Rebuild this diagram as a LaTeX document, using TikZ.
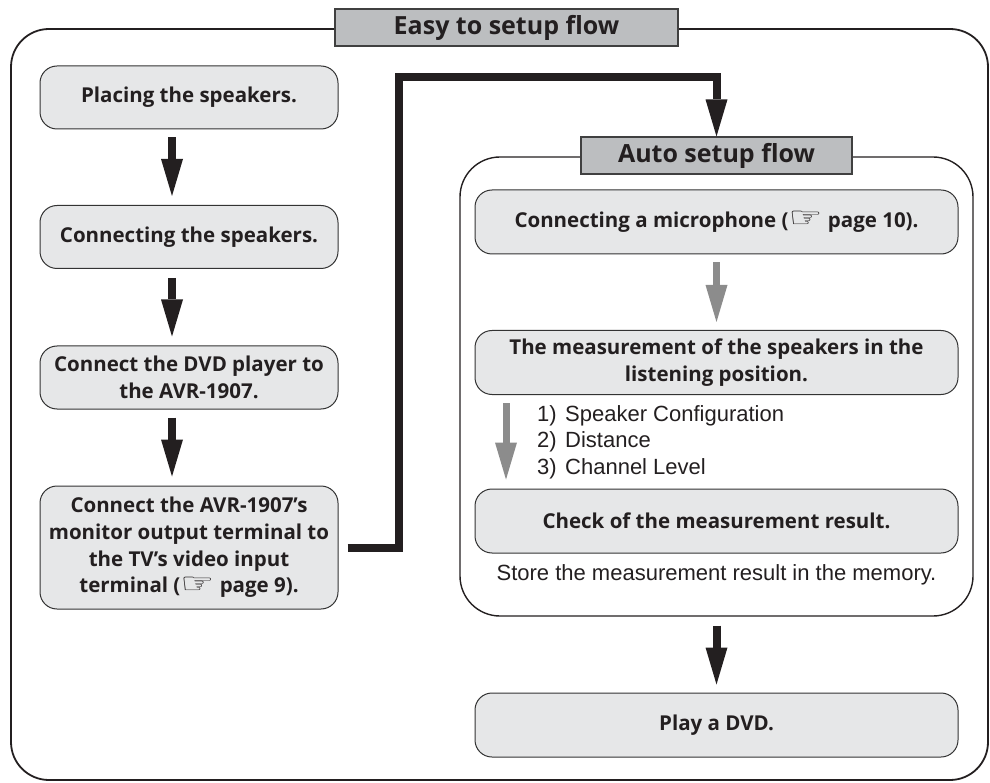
\documentclass[tikz,border=0pt]{standalone}
\usepackage{fontspec}
\setmainfont{Open Sans}
\newfontfamily\regf{Liberation Sans}
\newfontfamily\symf{DejaVu Sans}
\usetikzlibrary{arrows.meta}
\definecolor{txt}{RGB}{35,31,32}
\definecolor{boxfill}{RGB}{230,231,232}
\definecolor{titlefill}{RGB}{188,190,192}
\definecolor{arrgray}{RGB}{140,140,140}
\newcommand{\hand}{\raisebox{-0.5pt}{\scalebox{1.85}[1.4]{\symf\char"261E}}}
\begin{document}
\begin{tikzpicture}[x=1pt,y=-1pt,
  frame/.style={draw=txt, inner sep=0pt, fill=none},
  titlebox/.style={draw=black!75, line width=1.1pt, fill=titlefill, inner sep=0pt,
    minimum height=37pt, text=txt, font=\bfseries\fontsize{25}{28}\selectfont},
  stepbox/.style={draw=black!80, line width=1pt, fill=boxfill, rounded corners=17pt,
    inner sep=0pt, align=center, text=txt, font=\bfseries\fontsize{20.5}{26.7}\selectfont},
  leftbox/.style={stepbox, minimum width=298pt, minimum height=63pt},
  rightbox/.style={stepbox, minimum width=483pt, minimum height=64pt},
  plain/.style={text=txt, inner sep=0pt, font=\regf\fontsize{22}{26}\selectfont},
  bigarr/.style={draw=txt, line width=8pt, line cap=butt,
    -{Triangle[length=37pt,width=22pt,line width=0pt]}},
  grayarr/.style={draw=arrgray, line width=7pt, line cap=butt,
    -{Triangle[length=37pt,width=22pt,line width=0pt]}},
]
\useasboundingbox (0,0) rectangle (990,783);
% frames
\node[frame, line width=1.8pt, rounded corners=38pt, minimum width=977pt, minimum height=751pt] (oframe) at (499.5,404.5) {};
\node[titlebox, minimum width=343pt] (etitle) at (506.5,27.5) {Easy to setup flow};
% left column
\node[leftbox] (b1) at (189,97.5) {Placing the speakers.};
\node[leftbox] (b2) at (189,237) {Connecting the speakers.};
\node[leftbox] (b3) at (189,377.5) {Connect the DVD player to\\the AVR-1907.};
\node[leftbox, minimum height=123pt] (b4) at (189,547.5) {Connect the AVR-1907’s\\monitor output terminal to\\the TV’s video input\\terminal (\hand\ page 9).};
\draw[bigarr, shorten <=8pt, shorten >=9pt] ([xshift=-17pt]b1.south) -- ([xshift=-17pt]b2.north);
\draw[bigarr, shorten <=9pt, shorten >=9pt] ([xshift=-17pt]b2.south) -- ([xshift=-17pt]b3.north);
\draw[bigarr, shorten <=8pt, shorten >=9pt] ([xshift=-17pt]b3.south) -- ([xshift=-17pt]b4.north);
% inner frame
\node[frame, line width=1.4pt, rounded corners=40pt, minimum width=513pt, minimum height=459pt] (aframe) at (716.5,386.5) {};
\node[titlebox, minimum width=271pt] (atitle) at (716.5,155.5) {Auto setup flow};
\coordinate (j1) at (399,77);
\draw[bigarr, line join=miter, shorten <=9pt] (b4.east) -| (j1) -| (atitle.north);
% right column
\node[rightbox] (r1) at (716.5,222) {Connecting a microphone (\hand\ page 10).};
\node[rightbox] (r2) at (716.5,362.5) {The measurement of the speakers in the\\listening position.};
\node[rightbox] (r3) at (716.5,521) {Check of the measurement result.};
\node[rightbox] (r4) at (716.5,725) {Play a DVD.};
\draw[grayarr, shorten <=8pt, shorten >=8pt] (r1.south) -- (r2.north);
\draw[grayarr, shorten <=8pt, shorten >=9pt] ([xshift=-210.5pt]r2.south) -- ([xshift=-210.5pt]r3.north);
\node[plain, anchor=base west] (l1) at (537,421) {\makebox[28pt][l]{1)}Speaker Configuration};
\node[plain, anchor=base west] (l2) at (537,447) {\makebox[28pt][l]{2)}Distance};
\node[plain, anchor=base west] (l3) at (537,474) {\makebox[28pt][l]{3)}Channel Level};
\node[plain, anchor=base] (store) at (716.5,580) {Store the measurement result in the memory.};
\draw[bigarr, shorten <=9pt, shorten >=8pt] (aframe.south) -- (r4.north);
\end{tikzpicture}
\end{document}
